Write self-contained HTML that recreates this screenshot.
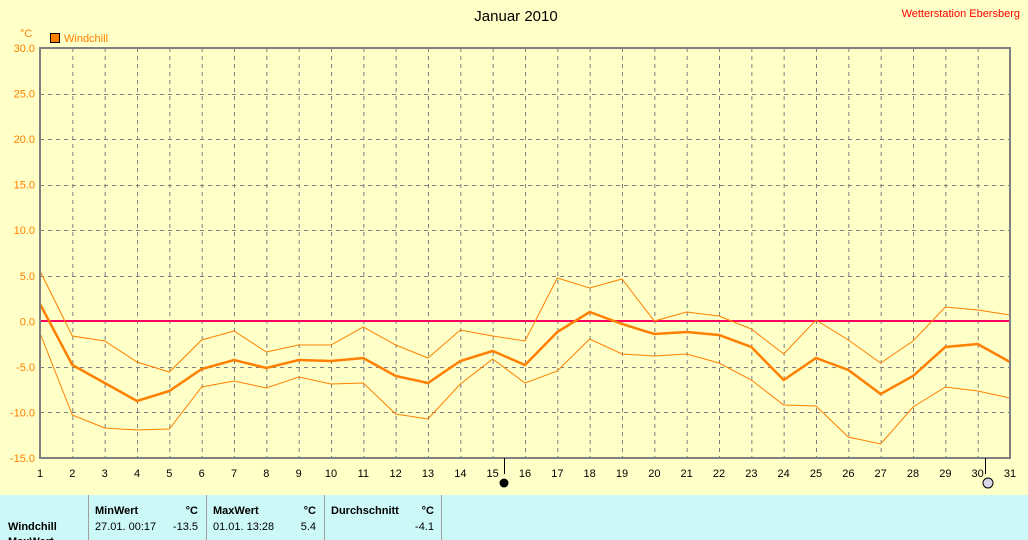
<!DOCTYPE html>
<html><head><meta charset="utf-8"><style>
body{margin:0;width:1028px;height:540px;overflow:hidden;background:#ffffc8;font-family:"Liberation Sans",sans-serif}
</style></head><body>
<svg width="1028" height="540" style="position:absolute;left:0;top:0" font-family="Liberation Sans, sans-serif">
<rect width="1028" height="495" fill="#ffffc8"/>
<text x="516" y="21" font-size="15" text-anchor="middle" fill="#000">Januar 2010</text>
<text x="1020" y="17" font-size="11" text-anchor="end" fill="#ff0000">Wetterstation Ebersberg</text>
<text x="20" y="37" font-size="11" fill="#ff8000">°C</text>
<rect x="50.5" y="33.5" width="9" height="9" fill="#ff8000" stroke="#000"/>
<text x="64" y="42" font-size="11" fill="#ff8000">Windchill</text>
<g id="grid" stroke="#808080" stroke-dasharray="4,4" stroke-width="1"></g>
<g id="ylab" font-size="11" fill="#ff8000" text-anchor="end"></g>
<g id="xlab" font-size="11" fill="#000" text-anchor="middle"></g>
<line x1="40" y1="321" x2="1010" y2="321" stroke="#ff0060" stroke-width="2"/>
<polyline id="up" fill="none" stroke="#ff8000" stroke-width="1"/>
<polyline id="lo" fill="none" stroke="#ff8000" stroke-width="1"/>
<polyline id="mn" fill="none" stroke="#ff8000" stroke-width="2.5"/>
<path d="M40 458V48H1010V458Z" fill="none" stroke="#808080" stroke-width="2"/>
<line x1="504.5" y1="458" x2="504.5" y2="474" stroke="#000"/>
<line x1="985.5" y1="458" x2="985.5" y2="474" stroke="#000"/>
<circle cx="504" cy="483" r="4.5" fill="#000"/>
<circle cx="988" cy="483" r="5" fill="#d8d8e8" stroke="#000"/>
<rect y="495" width="1028" height="45" fill="#ccf8f8"/>
<g stroke="#a0a0a0" stroke-width="1"><line x1="88.5" y1="495" x2="88.5" y2="540"/><line x1="206.5" y1="495" x2="206.5" y2="540"/><line x1="324.5" y1="495" x2="324.5" y2="540"/><line x1="441.5" y1="495" x2="441.5" y2="540"/></g>
<g font-size="11" fill="#000">
<text x="95" y="514" font-weight="bold">MinWert</text><text x="198" y="514" font-weight="bold" text-anchor="end">°C</text>
<text x="213" y="514" font-weight="bold">MaxWert</text><text x="316" y="514" font-weight="bold" text-anchor="end">°C</text>
<text x="331" y="514" font-weight="bold">Durchschnitt</text><text x="434" y="514" font-weight="bold" text-anchor="end">°C</text>
<text x="8" y="530" font-weight="bold">Windchill</text>
<text x="95" y="530">27.01.  00:17</text><text x="198" y="530" text-anchor="end">-13.5</text>
<text x="213" y="530">01.01.  13:28</text><text x="316" y="530" text-anchor="end">5.4</text>
<text x="434" y="530" text-anchor="end">-4.1</text>
<text x="8" y="545" font-weight="bold">MaxWert</text>
</g>
</svg>
<script>
var ns="http://www.w3.org/2000/svg";
function X(d){return 40+(d-1)*970/30}
var g=document.getElementById('grid'),yl=document.getElementById('ylab'),xl=document.getElementById('xlab');
for(var d=1;d<=31;d++){
 if(d>1&&d<31){var l=document.createElementNS(ns,'line');l.setAttribute('x1',X(d)+.5);l.setAttribute('x2',X(d)+.5);l.setAttribute('y1',48);l.setAttribute('y2',458);g.appendChild(l);}
 var t=document.createElementNS(ns,'text');t.setAttribute('x',X(d));t.setAttribute('y',477);t.textContent=d;xl.appendChild(t);
}
for(var i=0;i<=9;i++){var v=30-i*5,y=48+i*410/9;
 if(i>0&&i<9){var l=document.createElementNS(ns,'line');l.setAttribute('x1',40);l.setAttribute('x2',1010);l.setAttribute('y1',Math.round(y)+.5);l.setAttribute('y2',Math.round(y)+.5);g.appendChild(l);}
 var t=document.createElementNS(ns,'text');t.setAttribute('x',35);t.setAttribute('y',y+4);t.textContent=v.toFixed(1);yl.appendChild(t);
}
var up=[271,336,341,362,372,340,331,352,345,345,327,345,358,330,336,341,278,288,279,321,312,316,329,354,320,340,363,341,307,310,315];
var lo=[333,415,428,430,429,387,381,388,377,384,383,414,419,384,359,383,371,339,354,356,354,363,380,405,406,437,444,407,387,391,398];
var mn=[304,365,383,401,391,369,360,368,360,361,358,376,383,361,351,365,332,312,324,334,332,335,347,380,358,370,394,376,347,344,362];
function P(a){return a.map(function(y,i){return X(i+1)+','+y}).join(' ')}
document.getElementById('up').setAttribute('points',P(up));
document.getElementById('lo').setAttribute('points',P(lo));
document.getElementById('mn').setAttribute('points',P(mn));
</script>
</body></html>
